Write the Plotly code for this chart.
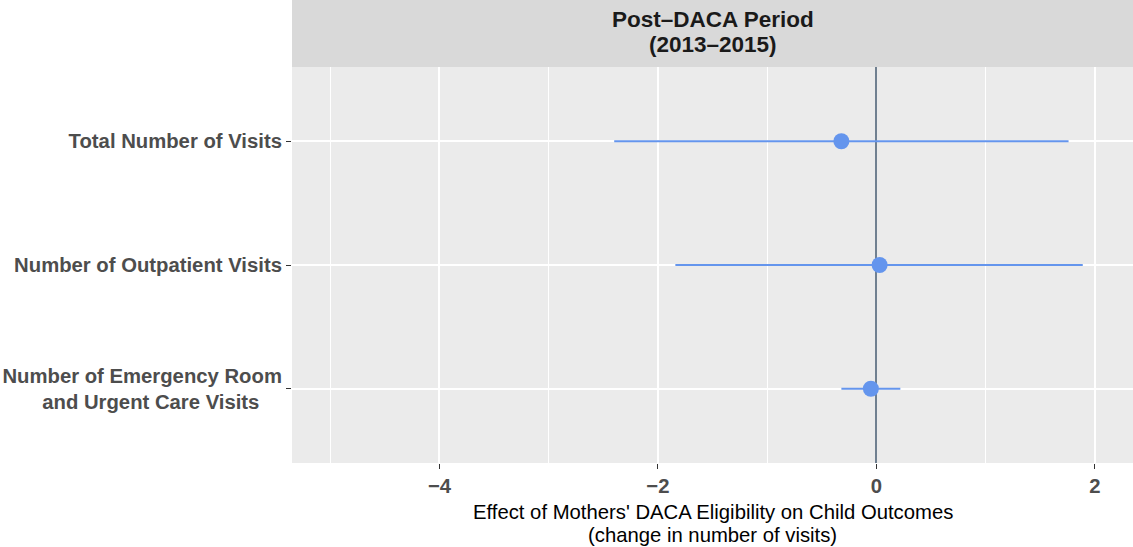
import plotly.graph_objects as go

# Outcome labels (top to bottom) and estimates with 95% CIs
outcomes = [
    "Total Number of Visits",
    "Number of Outpatient Visits",
    "Number of Emergency Room<br>and Urgent Care Visits\u00a0\u00a0\u00a0\u00a0",
]
estimates = [-0.32, 0.03, -0.05]
ci_low = [-2.40, -1.84, -0.32]
ci_high = [1.76, 1.89, 0.22]

x_ticks = [-4, -2, 0, 2]
x_tick_labels = ["\u22124", "\u22122", "0", "2"]
x_minor = [-5, -3, -1, 1]

strip_lines = ["Post\u2013DACA Period", "(2013\u20132015)"]
x_title_lines = ["Effect of Mothers' DACA Eligibility on Child Outcomes",
                 "(change in number of visits)"]

FONT = "Liberation Sans, Arial, Helvetica, sans-serif"
POINT_COLOR = "#6495ED"
PANEL_H = 396  # plot area height in px

err_plus = [h - e for h, e in zip(ci_high, estimates)]
err_minus = [e - l for e, l in zip(estimates, ci_low)]

fig = go.Figure()
fig.add_trace(go.Scatter(
    x=estimates,
    y=outcomes,
    mode="markers",
    marker=dict(color=POINT_COLOR, size=16, line=dict(width=0)),
    error_x=dict(type="data", symmetric=False, array=err_plus, arrayminus=err_minus,
                 color=POINT_COLOR, thickness=2, width=0),
    showlegend=False,
    hoverinfo="x+y",
))

# Facet strip across the top of the panel
strip_h = 67 / PANEL_H
fig.add_shape(type="rect", xref="paper", yref="paper", x0=0, x1=1, y0=1, y1=1 + strip_h,
              fillcolor="#D9D9D9", line=dict(width=0), layer="below")
for i, line in enumerate(strip_lines):
    fig.add_annotation(text=f"<b>{line}</b>", xref="paper", yref="paper",
                       x=0.5, y=1 + (47 - 25 * i) / PANEL_H,
                       showarrow=False, xanchor="center", yanchor="middle",
                       font=dict(family=FONT, size=22.5, color="#1A1A1A"))

# Two-line x-axis title
for i, line in enumerate(x_title_lines):
    fig.add_annotation(text=line, xref="paper", yref="paper",
                       x=0.5, y=-(49 + 23 * i) / PANEL_H,
                       showarrow=False, xanchor="center", yanchor="middle",
                       font=dict(family=FONT, size=20.3, color="black"))

fig.update_layout(
    width=1133, height=547,
    margin=dict(l=292, r=0, t=67, b=84, autoexpand=False),
    paper_bgcolor="white",
    plot_bgcolor="#EBEBEB",
    font=dict(family=FONT),
    xaxis=dict(
        range=[-5.35, 2.35],
        tickmode="array", tickvals=x_ticks, ticktext=x_tick_labels,
        tickfont=dict(family=FONT, size=20.3, color="#4D4D4D", weight="bold"),
        ticks="outside", ticklen=5, tickwidth=1.1, tickcolor="#333333",
        showgrid=True, gridcolor="white", gridwidth=2,
        minor=dict(tickmode="array", tickvals=x_minor, showgrid=True,
                   gridcolor="white", gridwidth=1, ticks=""),
        zeroline=True, zerolinecolor="#708090", zerolinewidth=1.6,
        showline=False,
    ),
    yaxis=dict(
        type="category",
        categoryorder="array", categoryarray=outcomes,
        range=[2.6, -0.6],
        tickfont=dict(family=FONT, size=20.3, color="#4D4D4D", weight="bold"),
        ticks="outside", ticklen=5, tickwidth=1.1, tickcolor="#333333",
        showgrid=True, gridcolor="white", gridwidth=2,
        zeroline=False, showline=False,
    ),
)

fig.write_html("out.html")
